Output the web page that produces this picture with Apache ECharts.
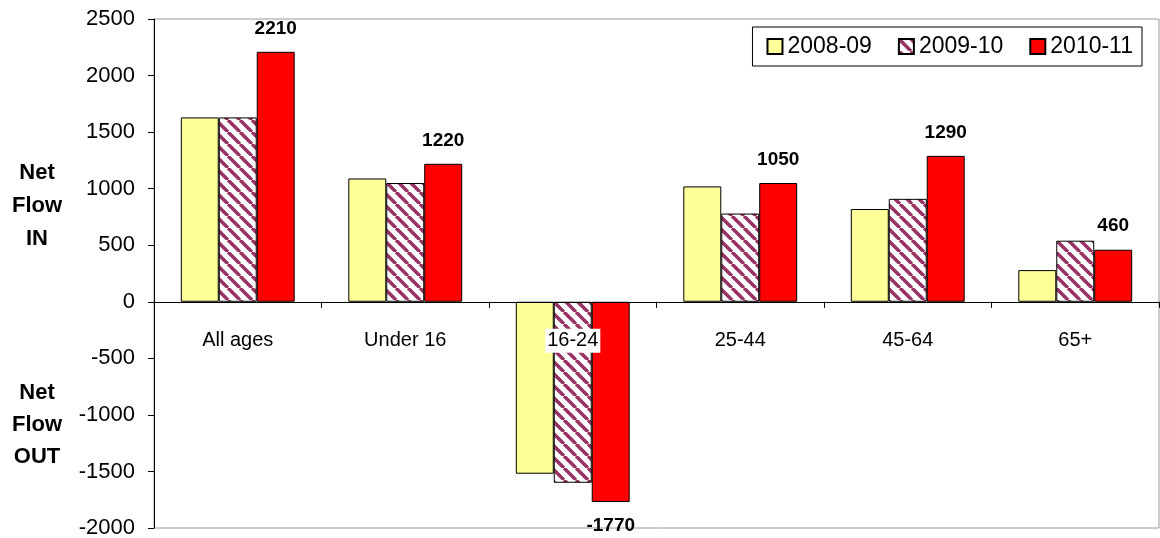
<!DOCTYPE html>
<html>
<head>
<meta charset="utf-8">
<script src="https://cdn.jsdelivr.net/npm/echarts@6/dist/echarts.min.js"></script>
<style>html,body{margin:0;padding:0;background:#fff}#c{width:1160px;height:538px}</style>
</head>
<body>
<div id="c"></div>
<script>
var categories = ['All ages', 'Under 16', '16-24', '25-44', '45-64', '65+'];
var seriesNames = ['2008-09', '2009-10', '2010-11'];
var v0809 = [1630, 1090, -1520, 1020, 820, 280];
var v0910 = [1630, 1050, -1600, 780, 910, 540];
var v1011 = [2210, 1220, -1770, 1050, 1290, 460];
var yTicks = { min: -2000, max: 2500, interval: 500 };

// hatch pattern
var pc = document.createElement('canvas');
var P = 12;
pc.width = P; pc.height = P;
var g = pc.getContext('2d');
g.fillStyle = '#fff'; g.fillRect(0, 0, P, P);
g.strokeStyle = '#993366'; g.lineWidth = 3.5;
[-P, 0, P].forEach(function (o) {
  g.beginPath(); g.moveTo(o, 0); g.lineTo(o + P, P); g.stroke();
});

var font = 'Arial, "Liberation Sans", sans-serif';
var gridTop = 19, gridBottom = 10, H = 538;
var plotH = H - gridTop - gridBottom;
var zeroOffset = -plotH * (0 - yTicks.min) / (yTicks.max - yTicks.min);

var chart = echarts.init(document.getElementById('c'));
var border = { borderColor: '#000', borderWidth: 1 };
chart.setOption({
  animation: false,
  textStyle: { fontFamily: font },
  grid: { left: 154, right: 1, top: gridTop, bottom: gridBottom, show: true, borderColor: '#999', borderWidth: 1, containLabel: false, outerBoundsMode: 'none' },
  legend: {
    data: seriesNames,
    top: 27, right: 18,
    orient: 'horizontal',
    borderColor: '#000', borderWidth: 1,
    padding: [8, 9, 8, 14],
    itemGap: 26, itemWidth: 15, itemHeight: 15,
    textStyle: { fontSize: 23, color: '#000', fontFamily: font },
    icon: 'rect'
  },
  xAxis: {
    type: 'category',
    data: categories,
    z: 10,
    position: 'bottom',
    offset: zeroOffset,
    axisLine: { onZero: false, lineStyle: { color: '#000', width: 1 } },
    axisTick: { show: true, length: 6, lineStyle: { color: '#000' } },
    axisLabel: { fontSize: 20, color: '#000', margin: 27, backgroundColor: '#fff', padding: [2, 2, 2, 2], fontFamily: font },
    splitLine: { show: false }
  },
  yAxis: {
    type: 'value',
    min: yTicks.min, max: yTicks.max, interval: yTicks.interval,
    axisLine: { show: true, lineStyle: { color: '#000' } },
    axisTick: { show: true, length: 6, lineStyle: { color: '#000' } },
    axisLabel: { fontSize: 22, color: '#000', margin: 19, fontFamily: font, formatter: function (v) { return String(v); } },
    splitLine: { show: false }
  },
  graphic: [
    { type: 'text', x: 37, y: 206, style: { text: 'Net\nFlow\nIN', align: 'center', verticalAlign: 'middle', font: 'bold 22px ' + font, lineHeight: 33, fill: '#000' } },
    { type: 'text', x: 37, y: 425, style: { text: 'Net\nFlow\nOUT', align: 'center', verticalAlign: 'middle', font: 'bold 22px ' + font, lineHeight: 32, fill: '#000' } }
  ],
  series: [
    { name: seriesNames[0], type: 'bar', data: v0809, barGap: '0%', barCategoryGap: '32%',
      itemStyle: Object.assign({ color: '#FFFF99' }, border) },
    { name: seriesNames[1], type: 'bar', data: v0910, barGap: '0%', barCategoryGap: '32%',
      itemStyle: Object.assign({ color: { image: pc, repeat: 'repeat' } }, border) },
    { name: seriesNames[2], type: 'bar', barGap: '0%', barCategoryGap: '32%',
      data: v1011.map(function (v) { return { value: v, label: { position: v < 0 ? 'bottom' : 'top' } }; }),
      itemStyle: Object.assign({ color: '#FF0000' }, border),
      label: { show: true, fontSize: 19, fontWeight: 'bold', color: '#000', distance: 14, fontFamily: font } }
  ]
});
</script>
</body>
</html>
